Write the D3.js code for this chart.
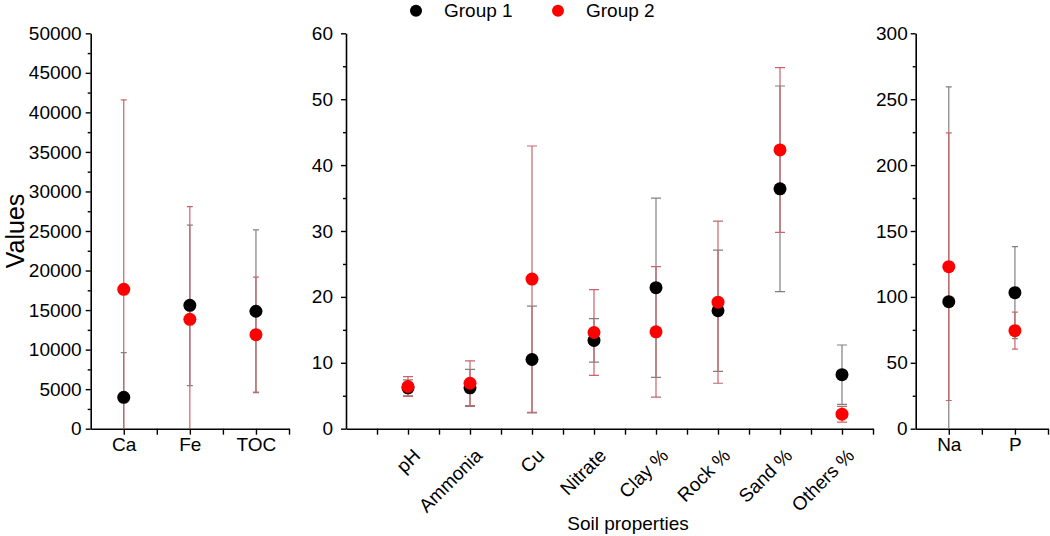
<!DOCTYPE html>
<html>
<head>
<meta charset="utf-8">
<script src="https://cdn.jsdelivr.net/npm/d3@7"></script>
<style>
  body { margin: 0; background: #fff; }
  text { font-family: Arial, "Liberation Sans", sans-serif; fill: #000; }
</style>
</head>
<body>
<div id="chart"></div>
<script>
// values (mean and standard deviation)
var leftCats = ["Ca", "Fe", "TOC"];
var leftG1 = [3970, 15600, 14850];
var leftG1Sd = [5640, 10150, 10280];
var leftG2 = [17630, 13830, 11890];
var leftG2Sd = [23940, 14240, 7270];

var midCats = ["pH", "Ammonia", "Cu", "Nitrate", "Clay %", "Rock %", "Sand %", "Others %"];
var midG1 = [6.2, 6.2, 10.5, 13.4, 21.4, 17.9, 36.4, 8.2];
var midG1Sd = [1.2, 2.8, 8.1, 3.3, 13.6, 9.2, 15.6, 4.5];
var midG2 = [6.4, 6.9, 22.7, 14.6, 14.7, 19.2, 42.3, 2.2];
var midG2Sd = [1.5, 3.4, 20.2, 6.5, 9.9, 12.3, 12.5, 1.2];

var rightCats = ["Na", "P"];
var rightG1 = [96.4, 103.2];
var rightG1Sd = [163, 34.9];
var rightG2 = [122.9, 74.4];
var rightG2Sd = [101.5, 14.0];

var groupNames = ["Group 1", "Group 2"];

var width = 1050, height = 536;
var yTop = 33.3, yBottom = 428.7;
var fontSize = "19px";

var dotColors = ["#000000", "#ff0000"];
var errColors = ["#808080", "#c9646a"];

var svg = d3.select("#chart").append("svg")
    .attr("width", width)
    .attr("height", height);

function drawPanel(p) {
  var x = d3.scaleLinear().domain(p.xDomain).range([p.x0, p.x1]);
  var y = d3.scaleLinear().domain([0, p.yMax]).range([yBottom, yTop]);
  var g = svg.append("g");

  var clipId = "clip" + p.id;
  svg.append("clipPath").attr("id", clipId)
    .append("rect")
      .attr("x", p.x0).attr("y", yTop - 10)
      .attr("width", p.x1 - p.x0).attr("height", yBottom - yTop + 10);

  // minor y ticks
  g.append("g")
      .attr("transform", "translate(" + p.x0 + ",0)")
      .call(d3.axisLeft(y).tickValues(d3.range(p.yStep / 2, p.yMax, p.yStep)).tickSize(3).tickFormat(""))
      .call(function(a) { a.select(".domain").remove(); });

  // major y axis
  var ya = g.append("g")
      .attr("transform", "translate(" + p.x0 + ",0)")
      .call(d3.axisLeft(y).tickValues(d3.range(0, p.yMax + 1e-9, p.yStep))
        .tickSize(5).tickSizeOuter(0).tickPadding(p.yPad).tickFormat(d3.format("d")));
  ya.selectAll("text").style("font-size", fontSize);

  // x axis, ticks every half category
  var ticks = d3.range(p.xDomain[0] + 0.5, p.xDomain[1] + 1e-9, 0.5);
  var xa = g.append("g")
      .attr("transform", "translate(0," + yBottom + ")")
      .call(d3.axisBottom(x).tickValues(ticks).tickSize(6).tickSizeOuter(0)
        .tickFormat(function(d) { return Number.isInteger(d) ? p.cats[d - 1] : ""; }));
  xa.selectAll("text").style("font-size", fontSize);

  if (p.rotate) {
    xa.selectAll("text")
      .attr("text-anchor", "end")
      .attr("dy", null)
      .attr("y", 0)
      .attr("transform", "translate(13,28) rotate(-45)");
  } else {
    xa.selectAll("text").attr("y", 9);
  }

  g.selectAll(".domain").attr("stroke", "#000").attr("stroke-width", 1.6);
  g.selectAll(".tick line").attr("stroke", "#000").attr("stroke-width", 1.4);

  var series = [
    { mean: p.g1, sd: p.g1Sd, k: 0 },
    { mean: p.g2, sd: p.g2Sd, k: 1 }
  ];

  var eg = svg.append("g").attr("clip-path", "url(#" + clipId + ")");
  series.forEach(function(s) {
    var rows = s.mean.map(function(m, i) { return { i: i + 1, m: m, sd: s.sd[i] }; });
    var b = eg.append("g").attr("stroke", errColors[s.k]).attr("stroke-width", 1.2);
    b.selectAll(".v").data(rows).enter().append("line")
      .attr("x1", function(d) { return x(d.i); }).attr("x2", function(d) { return x(d.i); })
      .attr("y1", function(d) { return y(d.m - d.sd); })
      .attr("y2", function(d) { return y(d.m + d.sd); });
    [-1, 1].forEach(function(sign) {
      b.selectAll(".c" + sign).data(rows).enter().append("line")
        .attr("x1", function(d) { return x(d.i) - p.cap; })
        .attr("x2", function(d) { return x(d.i) + p.cap; })
        .attr("y1", function(d) { return y(d.m + sign * d.sd); })
        .attr("y2", function(d) { return y(d.m + sign * d.sd); });
    });
  });

  series.forEach(function(s) {
    svg.append("g").selectAll("circle").data(s.mean).enter().append("circle")
      .attr("cx", function(d, i) { return x(i + 1); })
      .attr("cy", function(d) { return y(d); })
      .attr("r", 6.5)
      .attr("fill", dotColors[s.k]);
  });
}

drawPanel({ id: "L", cats: leftCats, g1: leftG1, g1Sd: leftG1Sd, g2: leftG2, g2Sd: leftG2Sd,
  xDomain: [0.5, 3.5], x0: 90.7, x1: 289, yMax: 50000, yStep: 5000, yPad: 4, cap: 3, rotate: false });
drawPanel({ id: "M", cats: midCats, g1: midG1, g1Sd: midG1Sd, g2: midG2, g2Sd: midG2Sd,
  xDomain: [0, 8.5], x0: 346, x1: 873, yMax: 60, yStep: 10, yPad: 8, cap: 5, rotate: true });
drawPanel({ id: "R", cats: rightCats, g1: rightG1, g1Sd: rightG1Sd, g2: rightG2, g2Sd: rightG2Sd,
  xDomain: [0.5, 2.5], x0: 915.7, x1: 1048, yMax: 300, yStep: 50, yPad: 3, cap: 3, rotate: false });

// axis titles
svg.append("text")
    .attr("transform", "translate(24,231) rotate(-90)")
    .attr("text-anchor", "middle")
    .style("font-size", "25px")
    .text("Values");

svg.append("text")
    .attr("x", 628).attr("y", 530)
    .attr("text-anchor", "middle")
    .style("font-size", fontSize)
    .text("Soil properties");

// legend
var legX = [416, 558];
groupNames.forEach(function(name, k) {
  svg.append("circle").attr("cx", legX[k]).attr("cy", 10.7).attr("r", 6).attr("fill", dotColors[k]);
  svg.append("text").attr("x", legX[k] + 28).attr("y", 17.3)
    .style("font-size", fontSize).text(name);
});
</script>
</body>
</html>
